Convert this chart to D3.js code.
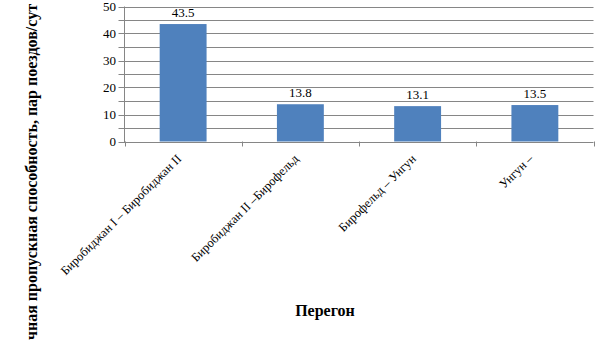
<!DOCTYPE html>
<html><head><meta charset="utf-8">
<script src="https://cdn.jsdelivr.net/npm/d3@7"></script>
<style>body{margin:0;background:#fff}svg{display:block}svg text{font-family:"Liberation Serif",serif}</style>
</head><body><svg id="c" width="605" height="340"></svg>
<script>
const categories = ["Биробиджан I – Биробиджан II", "Биробиджан II –Бирофельд", "Бирофельд – Унгун", "Унгун –"];
const values = [43.5, 13.8, 13.1, 13.5];
const valueLabels = ["43.5", "13.8", "13.1", "13.5"];
const yTicks = [0, 10, 20, 30, 40, 50];
const yGrid = [0, 5, 10, 15, 20, 25, 30, 35, 40, 45, 50];
const yTitle = "Наличная пропускная способность, пар поездов/сут";
const xTitle = "Перегон";

const svg = d3.select("#c");
const L = 124.5, R = 593.5, T = 6.5, B = 141.5;
const x = d3.scaleBand().domain(categories).range([L, R]).paddingInner(0.6).paddingOuter(0.3);
const xb = d3.scaleBand().domain(categories).range([L, R]);
const y = d3.scaleLinear().domain([0, 50]).range([B, T]);
const gridC = "#868686";

svg.append("g").selectAll("line").data(yGrid).join("line")
  .attr("x1", L - 6).attr("x2", R)
  .attr("y1", d => Math.round(y(d)) + 0.5).attr("y2", d => Math.round(y(d)) + 0.5)
  .attr("stroke", gridC).attr("stroke-width", 1);
svg.append("line").attr("x1", L).attr("x2", L).attr("y1", y(50)).attr("y2", B + 0.5)
  .attr("stroke", gridC);
svg.append("g").selectAll("text").data(yTicks).join("text")
  .attr("x", 116).attr("y", d => y(d) + 4.5)
  .attr("text-anchor", "end").style("font-size", "13px")
  .attr("fill", "#000").text(d => d);
const edges = categories.map(c => xb(c)).concat([R]);
svg.append("g").selectAll("line").data(edges).join("line")
  .attr("x1", d => Math.round(d) + 0.5).attr("x2", d => Math.round(d) + 0.5)
  .attr("y1", B).attr("y2", B + 5).attr("stroke", gridC);
svg.append("g").selectAll("rect").data(values).join("rect")
  .attr("x", (d, i) => x(categories[i])).attr("width", x.bandwidth())
  .attr("y", d => y(d)).attr("height", d => B - y(d))
  .attr("fill", "#4F81BD");
svg.append("g").selectAll("text").data(values).join("text")
  .attr("x", (d, i) => x(categories[i]) + x.bandwidth() / 2)
  .attr("y", d => y(d) - 7)
  .attr("text-anchor", "middle").style("font-size", "13px")
  .text((d, i) => valueLabels[i]);
svg.append("g").selectAll("text").data(categories).join("text")
  .attr("transform", c => `translate(${xb(c) + xb.bandwidth() / 2 - 1},${B + 18}) rotate(-45)`)
  .attr("text-anchor", "end").style("font-size", "12.5px")
  .text(c => c);
svg.append("text").attr("transform", "translate(37,4) rotate(-90)")
  .attr("text-anchor", "end").style("font-size", "16px").style("font-weight", "bold")
  .text(yTitle);
svg.append("text").attr("x", 325).attr("y", 316).attr("text-anchor", "middle")
  .style("font-size", "16px").style("font-weight", "bold").text(xTitle);
</script></body></html>
